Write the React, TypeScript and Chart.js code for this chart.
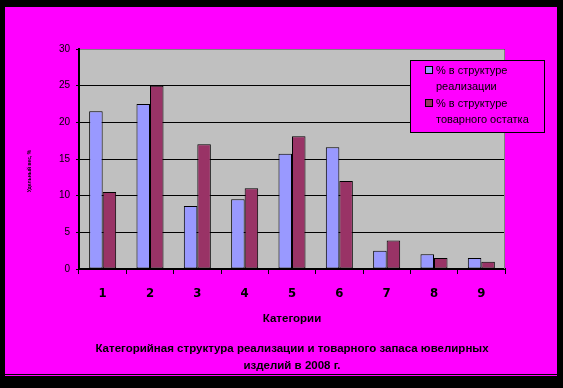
import React, { useEffect, useRef } from "react";
import { Chart, registerables } from "chart.js";

Chart.register(...registerables);

const categories = ["1", "2", "3", "4", "5", "6", "7", "8", "9"];
const salesShare = [21.5, 22.5, 8.6, 9.5, 15.7, 16.6, 2.5, 2.0, 1.5];
const stockShare = [10.5, 25.0, 17.0, 11.0, 18.1, 12.0, 3.9, 1.5, 1.0];
const yMin = 0;
const yMax = 30;
const yStep = 5;
const seriesNames = [
  ["% в структуре", "реализации"],
  ["% в структуре", "товарного остатка"],
];
const seriesColors = ["#9999FF", "#993366"];
const xAxisTitle = "Категории";
const yAxisTitle = "Удельный вес, %";
const chartTitle = [
  "Категорийная структура реализации и товарного запаса ювелирных",
  "изделий в 2008 г.",
];

const SANS = "'Liberation Sans', Arial, sans-serif";
const NARROW = "'Liberation Sans Narrow', 'Arial Narrow', 'DejaVu Sans Condensed', sans-serif";

const decorPlugin = {
  id: "decor",
  beforeDraw(chart: any) {
    const ctx = chart.ctx;
    const a = chart.chartArea;
    ctx.save();
    ctx.fillStyle = "#000000";
    ctx.fillRect(0, 0, chart.width, chart.height);
    ctx.fillStyle = "#FF00FF";
    ctx.fillRect(5, 7, 552, 367);
    ctx.fillRect(5, 375, 552, 1);
    ctx.fillStyle = "#C0C0C0";
    ctx.fillRect(a.left, a.top, a.right - a.left, a.bottom - a.top);
    ctx.restore();
  },
  afterDraw(chart: any) {
    const ctx = chart.ctx;
    const a = chart.chartArea;
    ctx.save();
    // plot area border (top/right)
    ctx.strokeStyle = "#808080";
    ctx.lineWidth = 1;
    ctx.beginPath();
    ctx.moveTo(a.left + 1, a.top + 0.5);
    ctx.lineTo(a.right - 0.5, a.top + 0.5);
    ctx.lineTo(a.right - 0.5, a.bottom);
    ctx.stroke();

    // legend
    const lx = 410, ly = 60, lw = 134, lh = 72;
    ctx.fillStyle = "#FF00FF";
    ctx.fillRect(lx, ly, lw, lh);
    ctx.strokeStyle = "#000000";
    ctx.strokeRect(lx + 0.5, ly + 0.5, lw, lh);
    const markerY = [66, 99];
    const lineY = [[70.5, 86.5], [103.5, 120]];
    ctx.font = `11px ${SANS}`;
    ctx.textBaseline = "middle";
    ctx.textAlign = "left";
    for (let i = 0; i < 2; i++) {
      ctx.fillStyle = seriesColors[i];
      ctx.fillRect(425, markerY[i], 7, 7);
      ctx.strokeStyle = "#000";
      ctx.strokeRect(425.5, markerY[i] + 0.5, 7, 7);
      ctx.fillStyle = "#000";
      ctx.fillText(seriesNames[i][0], 436, lineY[i][0]);
      ctx.fillText(seriesNames[i][1], 436, lineY[i][1]);
    }

    // axis titles and chart title
    const cx = (a.left + a.right) / 2;
    ctx.fillStyle = "#000";
    ctx.textAlign = "center";
    ctx.textBaseline = "alphabetic";
    ctx.font = `bold 11.5px ${SANS}`;
    ctx.fillText(xAxisTitle, cx, 322);
    ctx.fillText(chartTitle[0], cx, 352);
    ctx.fillText(chartTitle[1], cx, 369);

    ctx.translate(30, 171);
    ctx.rotate(-Math.PI / 2);
    ctx.font = `bold 5px ${SANS}`;
    ctx.textBaseline = "middle";
    ctx.fillText(yAxisTitle, 0, 0);
    ctx.restore();
  },
};

export default function App() {
  const ref = useRef<HTMLCanvasElement | null>(null);
  useEffect(() => {
    if (!ref.current) return;
    const chart = new Chart(ref.current, {
      type: "bar",
      data: {
        labels: categories,
        datasets: [
          {
            label: seriesNames[0].join(" "),
            data: salesShare,
            backgroundColor: seriesColors[0],
            borderColor: "#000000",
            borderWidth: 1,
            borderSkipped: false,
            categoryPercentage: 0.571,
            barPercentage: 1,
          },
          {
            label: seriesNames[1].join(" "),
            data: stockShare,
            backgroundColor: seriesColors[1],
            borderColor: "#000000",
            borderWidth: 1,
            borderSkipped: false,
            categoryPercentage: 0.571,
            barPercentage: 1,
          },
        ],
      },
      options: {
        animation: false,
        responsive: false,
        devicePixelRatio: 1,
        layout: { padding: { left: 0, right: 58, top: 49, bottom: 69 } },
        plugins: {
          legend: { display: false },
          title: { display: false },
          tooltip: { enabled: false },
        },
        scales: {
          x: {
            offset: true,
            grid: {
              display: true,
              offset: true,
              drawOnChartArea: false,
              drawTicks: true,
              tickLength: 5,
              color: "#000000",
              lineWidth: 1,
            },
            border: { display: true, color: "#000000", width: 2 },
            ticks: {
              color: "#000000",
              font: { family: NARROW, size: 13, weight: "bold", lineHeight: 1 },
              padding: 13,
              maxRotation: 0,
            },
            afterFit(scale: any) {
              scale.height = 50;
            },
          },
          y: {
            min: yMin,
            max: yMax,
            grid: {
              color: "#000000",
              lineWidth: 1,
              drawTicks: true,
              tickLength: 3,
            },
            border: { display: true, color: "#000000", width: 2 },
            ticks: {
              stepSize: yStep,
              color: "#000000",
              font: { family: SANS, size: 10, lineHeight: 1 },
              padding: 6,
            },
            afterFit(scale: any) {
              scale.width = 79;
            },
          },
        },
      },
      plugins: [decorPlugin],
    });
    return () => chart.destroy();
  }, []);
  return (
    <div style={{ position: "absolute", left: 0, top: 0, width: 563, height: 388 }}>
      <canvas ref={ref} width={563} height={388} style={{ display: "block" }} />
    </div>
  );
}
